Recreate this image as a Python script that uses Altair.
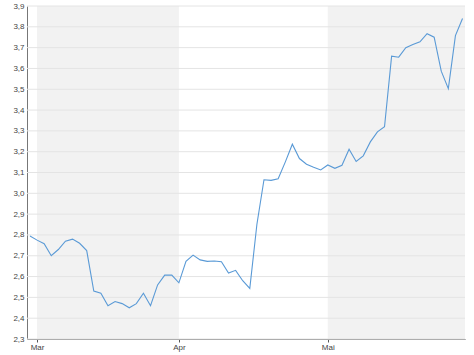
import altair as alt
import pandas as pd

# Trading-day index and closing values
values = [2.795, 2.775, 2.758, 2.70, 2.73, 2.77, 2.78, 2.76, 2.725, 2.53,
          2.52, 2.46, 2.48, 2.47, 2.45, 2.47, 2.52, 2.46, 2.56, 2.607,
          2.607, 2.57, 2.673, 2.703, 2.68, 2.673, 2.675, 2.671, 2.617, 2.63,
          2.58, 2.543, 2.85, 3.065, 3.062, 3.07, 3.15, 3.236, 3.167, 3.14,
          3.125, 3.112, 3.136, 3.12, 3.135, 3.212, 3.153, 3.18, 3.247, 3.295,
          3.32, 3.659, 3.654, 3.70, 3.715, 3.728, 3.767, 3.75, 3.587, 3.503,
          3.758, 3.84]
month_labels = ["Mar", "Apr", "Mai"]
month_starts = [1, 21, 42]
band_start = [1, 42]
band_end = [21, 61.35]
y_ticks = [2.3, 2.4, 2.5, 2.6, 2.7, 2.8, 2.9, 3.0, 3.1, 3.2, 3.3, 3.4, 3.5, 3.6, 3.7, 3.8, 3.9]

X_DOMAIN = [-0.42, 61.35]
Y_DOMAIN = [2.3, 3.9]

line_df = pd.DataFrame({"i": list(range(len(values))), "v": values})
band_df = pd.DataFrame({"s": band_start, "e": band_end})
grid_df = pd.DataFrame({"y": y_ticks})

label_expr = ("datum.value == 1 ? 'Mar' : datum.value == 21 ? 'Apr' : "
              "datum.value == 42 ? 'Mai' : ''")

xscale = alt.Scale(domain=X_DOMAIN, nice=False, zero=False)
yscale = alt.Scale(domain=Y_DOMAIN, nice=False, zero=False)

x_axis = alt.Axis(values=month_starts, labelExpr=label_expr, title=None,
                  grid=False, domainColor="#777", tickColor="#555",
                  tickSize=3, labelFontSize=8, labelColor="#444",
                  labelFont="Liberation Sans", labelPadding=1,
                  labelFlush=False)
y_axis = alt.Axis(values=y_ticks, title=None, grid=False,
                  labelExpr="replace(format(datum.value, '.1f'), '.', ',')",
                  domainColor="#777", ticks=False, labelFontSize=8,
                  labelColor="#444", labelFont="Liberation Sans",
                  labelPadding=3, labelFlush=False)

bands = alt.Chart(band_df).mark_rect(color="#f2f2f2").encode(
    x=alt.X("s:Q", scale=xscale, axis=x_axis),
    x2="e:Q",
    y=alt.value(0),
    y2=alt.value(333),
)

grid = alt.Chart(grid_df).mark_rule(color="#e4e4e4", strokeWidth=1).encode(
    y=alt.Y("y:Q", scale=yscale, axis=y_axis),
)

line = alt.Chart(line_df).mark_line(color="#5a9ad6", strokeWidth=1.1).encode(
    x=alt.X("i:Q", scale=xscale, axis=x_axis),
    y=alt.Y("v:Q", scale=yscale, axis=y_axis),
)

chart = alt.layer(bands, grid, line).properties(
    width=438, height=333,
    autosize=alt.AutoSizeParams(type="none"),
    padding={"left": 27, "top": 6, "right": 9, "bottom": 16},
    background="white",
).configure_view(stroke=None)

chart.save("out.html", embed_options={"renderer": "svg", "actions": False})
